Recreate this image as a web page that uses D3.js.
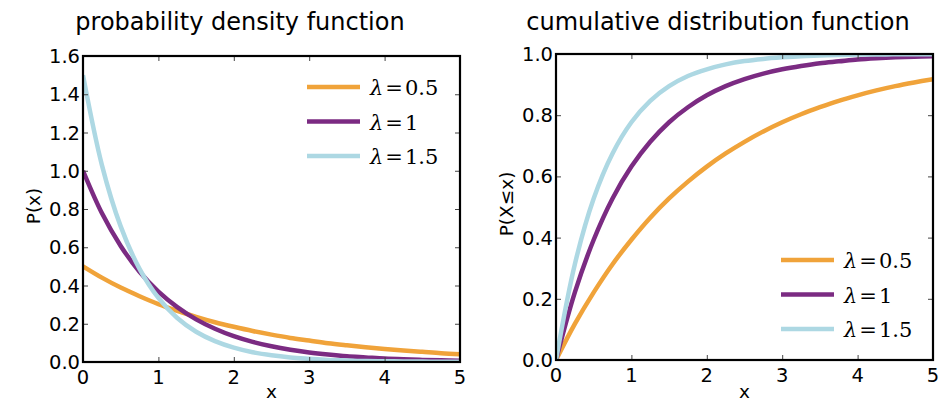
<!DOCTYPE html>
<html>
<head>
<meta charset="utf-8">
<script src="https://cdn.jsdelivr.net/npm/d3@7"></script>
<style>
  body { margin: 0; background: #fff; }
  svg { display: block; }
  .tick-label { font-family: "DejaVu Sans", sans-serif; font-size: 19.5px; fill: #000; }
  .title { font-family: "DejaVu Sans", sans-serif; font-size: 24px; fill: #000; }
  .axis-label { font-family: "DejaVu Sans", sans-serif; font-size: 18.5px; fill: #000; }
  .legend-label { font-family: "DejaVu Serif", serif; font-size: 21px; fill: #000; }
</style>
</head>
<body>
<svg width="948" height="403"></svg>
<script>
var xs = [0, 0.25, 0.5, 0.75, 1, 1.25, 1.5, 1.75, 2, 2.25, 2.5, 2.75, 3, 3.25, 3.5, 3.75, 4, 4.25, 4.5, 4.75, 5];

var pdfHalf = [0.5, 0.441, 0.389, 0.344, 0.303, 0.268, 0.236, 0.208, 0.184, 0.162, 0.143, 0.126, 0.112, 0.098, 0.087, 0.077, 0.068, 0.060, 0.053, 0.046, 0.041];
var pdfOne = [1.0, 0.779, 0.607, 0.472, 0.368, 0.287, 0.223, 0.174, 0.135, 0.105, 0.082, 0.064, 0.050, 0.039, 0.030, 0.024, 0.018, 0.014, 0.011, 0.009, 0.007];
var pdfOneHalf = [1.5, 1.031, 0.709, 0.487, 0.335, 0.230, 0.158, 0.109, 0.075, 0.051, 0.035, 0.024, 0.017, 0.011, 0.008, 0.005, 0.004, 0.003, 0.002, 0.001, 0.001];

var cdfHalf = [0, 0.118, 0.221, 0.313, 0.393, 0.465, 0.528, 0.583, 0.632, 0.675, 0.713, 0.747, 0.777, 0.803, 0.826, 0.847, 0.865, 0.881, 0.895, 0.907, 0.918];
var cdfOne = [0, 0.221, 0.393, 0.528, 0.632, 0.713, 0.777, 0.826, 0.865, 0.895, 0.918, 0.936, 0.950, 0.961, 0.970, 0.976, 0.982, 0.986, 0.989, 0.991, 0.993];
var cdfOneHalf = [0, 0.313, 0.528, 0.675, 0.777, 0.847, 0.895, 0.928, 0.950, 0.966, 0.977, 0.984, 0.989, 0.993, 0.995, 0.997, 0.998, 0.998, 0.999, 0.999, 0.999];

var lambdaValues = ['0.5', '1', '1.5'];
var seriesColors = ['#f0a33a', '#7b2b82', '#add8e3'];

var xTicks = [0, 1, 2, 3, 4, 5];
var pdfTicks = [0, 0.2, 0.4, 0.6, 0.8, 1.0, 1.2, 1.4, 1.6];
var cdfTicks = [0, 0.2, 0.4, 0.6, 0.8, 1.0];

(function() {
  var svg = d3.select('svg');

  buildPanel({
    id: 'pdf', left: 83, right: 460, top: 56, bottom: 362,
    yMax: 1.6, yTicks: pdfTicks,
    series: [pdfHalf, pdfOne, pdfOneHalf],
    title: 'probability density function', titleX: 240,
    yLabel: 'P(x)', yLabelX: 40,
    legendX: 307, legendY: 87
  });

  buildPanel({
    id: 'cdf', left: 556, right: 933, top: 54, bottom: 360,
    yMax: 1.0, yTicks: cdfTicks,
    series: [cdfHalf, cdfOne, cdfOneHalf],
    title: 'cumulative distribution function', titleX: 718,
    yLabel: 'P(X\u2264x)', yLabelX: 513,
    legendX: 781, legendY: 260
  });

  function buildPanel(o) {
    var x = d3.scaleLinear().domain([0, 5]).range([o.left, o.right]);
    var y = d3.scaleLinear().domain([0, o.yMax]).range([o.bottom, o.top]);
    var g = svg.append('g');

    g.append('clipPath').attr('id', 'clip-' + o.id)
      .append('rect')
        .attr('x', o.left).attr('y', o.top)
        .attr('width', o.right - o.left).attr('height', o.bottom - o.top);

    var line = d3.line()
      .x(function(d) { return x(d[0]); })
      .y(function(d) { return y(d[1]); })
      .curve(d3.curveCatmullRom);

    o.series.forEach(function(vals, i) {
      g.append('path')
        .datum(xs.map(function(v, j) { return [v, vals[j]]; }))
        .attr('clip-path', 'url(#clip-' + o.id + ')')
        .attr('fill', 'none')
        .attr('stroke', seriesColors[i])
        .attr('stroke-width', 4.5)
        .attr('d', line);
    });

    // inward ticks on all four sides
    var tickLen = 5;
    var tickColor = '#444';
    g.append('g').call(d3.axisBottom(x).tickValues(xTicks).tickSize(-tickLen).tickFormat(''))
      .attr('transform', 'translate(0,' + o.bottom + ')');
    g.append('g').call(d3.axisTop(x).tickValues(xTicks).tickSize(-tickLen).tickFormat(''))
      .attr('transform', 'translate(0,' + o.top + ')');
    g.append('g').call(d3.axisLeft(y).tickValues(o.yTicks).tickSize(-tickLen).tickFormat(''))
      .attr('transform', 'translate(' + o.left + ',0)');
    g.append('g').call(d3.axisRight(y).tickValues(o.yTicks).tickSize(-tickLen).tickFormat(''))
      .attr('transform', 'translate(' + o.right + ',0)');
    g.selectAll('.domain').remove();
    g.selectAll('.tick line').attr('stroke', tickColor).attr('stroke-width', 1);

    g.append('rect')
      .attr('x', o.left).attr('y', o.top)
      .attr('width', o.right - o.left).attr('height', o.bottom - o.top)
      .attr('fill', 'none').attr('stroke', '#000').attr('stroke-width', 2.2);

    g.selectAll('.xl').data(xTicks).enter().append('text')
      .attr('class', 'tick-label')
      .attr('x', function(d) { return x(d); })
      .attr('y', o.bottom + 22)
      .attr('text-anchor', 'middle')
      .text(function(d) { return d; });

    g.selectAll('.yl').data(o.yTicks).enter().append('text')
      .attr('class', 'tick-label')
      .attr('x', o.left - 3)
      .attr('y', function(d) { return y(d) + 7; })
      .attr('text-anchor', 'end')
      .text(function(d) { return d.toFixed(1); });

    g.append('text').attr('class', 'title')
      .attr('x', o.titleX).attr('y', 30)
      .attr('text-anchor', 'middle')
      .text(o.title);

    g.append('text').attr('class', 'axis-label')
      .attr('x', (o.left + o.right) / 2).attr('y', 398)
      .attr('text-anchor', 'middle')
      .text('x');

    g.append('text').attr('class', 'axis-label')
      .attr('transform', 'translate(' + o.yLabelX + ',' + ((o.top + o.bottom) / 2 - 3) + ') rotate(-90)')
      .attr('text-anchor', 'middle')
      .text(o.yLabel);

    var legend = g.append('g');
    lambdaValues.forEach(function(val, i) {
      var ly = o.legendY + i * 34.5;
      legend.append('line')
        .attr('x1', o.legendX).attr('x2', o.legendX + 53)
        .attr('y1', ly).attr('y2', ly)
        .attr('stroke', seriesColors[i]).attr('stroke-width', 4.5);
      var t = legend.append('text').attr('class', 'legend-label')
        .attr('x', o.legendX + 63).attr('y', ly + 8);
      t.append('tspan').attr('font-style', 'italic').text('\u03bb');
      t.append('tspan').attr('dx', 2).text('=');
      t.append('tspan').attr('dx', 2).text(val);
    });
  }
})();
</script>
</body>
</html>
